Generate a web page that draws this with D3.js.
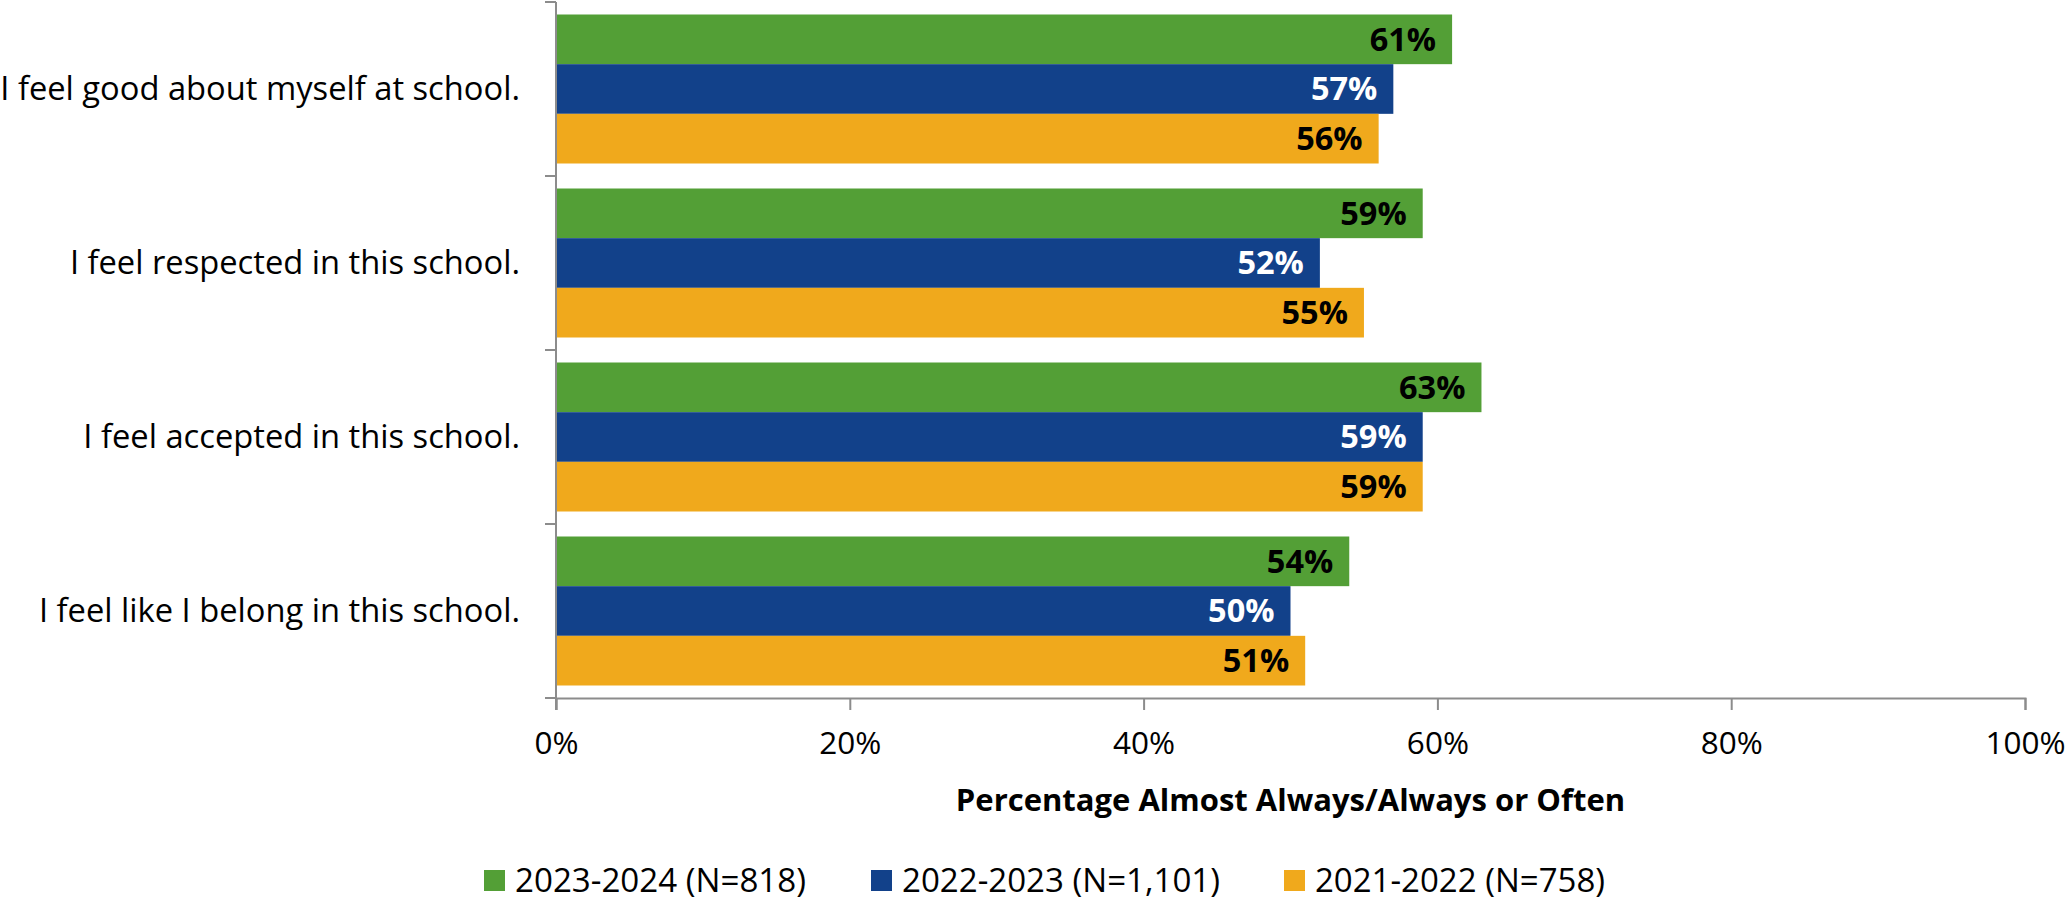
<!DOCTYPE html>
<html><head><meta charset="utf-8">
<script src="https://cdn.jsdelivr.net/npm/d3@7"></script>
<style>
html,body{margin:0;padding:0;background:#fff;}
svg{display:block;font-family:"Open Sans",sans-serif;}
</style></head>
<body><svg id="chart" width="2066" height="904"></svg>
<script>
const categories = ["I feel good about myself at school.","I feel respected in this school.","I feel accepted in this school.","I feel like I belong in this school."];
const seriesNames = ["2023-2024 (N=818)","2022-2023 (N=1,101)","2021-2022 (N=758)"];
const values2324 = [61,59,63,54];
const values2223 = [57,52,59,50];
const values2122 = [56,55,59,51];
const xTicks = [0,20,40,60,80,100];
const axisTitle = "Percentage Almost Always/Always or Often";
const colors = ["#539F36","#12418A","#F0A91C"];
const labelColors = ["#000","#fff","#000"];

(function(){
const seriesValues = [values2324, values2223, values2122];
const svg = d3.select("#chart");
const mLeft = 556, mRight = 2025, mTop = 2, mBottom = 698;
const x = d3.scaleLinear().domain([0,100]).range([mLeft,mRight]);
const y0 = d3.scaleBand().domain(categories).range([mTop,mBottom]).padding(0);
const y1 = d3.scaleBand().domain(d3.range(3)).range([12.5, y0.bandwidth()-12.5]).padding(0);
const axisColor = "#8c8c8c";

const g = svg.append("g");
categories.forEach((c,ci)=>{
  seriesValues.forEach((vals,si)=>{
    const yy = y0(c)+y1(si);
    g.append("rect").attr("x",x(0)).attr("y",yy).attr("width",x(vals[ci])-x(0)).attr("height",y1.bandwidth()).attr("fill",colors[si]);
    g.append("text").attr("x",x(vals[ci])-16).attr("y",yy+y1.bandwidth()/2).attr("dy","0.35em")
      .attr("text-anchor","end").attr("font-weight","bold").attr("font-size",32.5).attr("fill",labelColors[si])
      .text(vals[ci]+"%");
  });
});

svg.append("line").attr("x1",mLeft).attr("x2",mLeft).attr("y1",mTop).attr("y2",mBottom+12).attr("stroke",axisColor).attr("stroke-width",2);
const bounds = categories.map(c=>y0(c)).concat([mBottom]);
bounds.forEach(b=>{
  svg.append("line").attr("x1",mLeft-11).attr("x2",mLeft).attr("y1",b).attr("y2",b).attr("stroke",axisColor).attr("stroke-width",2);
});
categories.forEach(c=>{
  svg.append("text").attr("x",520).attr("y",y0(c)+y0.bandwidth()/2).attr("dy","0.35em")
    .attr("text-anchor","end").attr("font-size",32.7).attr("fill","#000").text(c);
});

const xAxis = d3.axisBottom(x).tickValues(xTicks).tickFormat(d=>d+"%").tickSize(12).tickPadding(22);
const xg = svg.append("g").attr("transform",`translate(0,${mBottom})`).call(xAxis);
xg.select(".domain").attr("stroke",axisColor).attr("stroke-width",2);
xg.selectAll(".tick line").attr("stroke",axisColor).attr("stroke-width",2);
xg.selectAll(".tick text").attr("font-size",31.5).attr("fill","#000").attr("font-family","Open Sans");

svg.append("text").attr("x",(mLeft+mRight)/2).attr("y",800).attr("dy","0.35em").attr("text-anchor","middle")
  .attr("font-weight","bold").attr("font-size",31).attr("fill","#000").text(axisTitle);

const legendX = [484, 871, 1284];
const legendW = [291, 318, 290];
seriesNames.forEach((n,i)=>{
  svg.append("rect").attr("x",legendX[i]).attr("y",870).attr("width",21).attr("height",21).attr("fill",colors[i]);
  svg.append("text").attr("x",legendX[i]+31).attr("y",881).attr("dy","0.35em").attr("font-size",32)
    .attr("textLength",legendW[i]).attr("lengthAdjust","spacingAndGlyphs").attr("fill","#000").text(n);
});
})();
</script></body></html>
